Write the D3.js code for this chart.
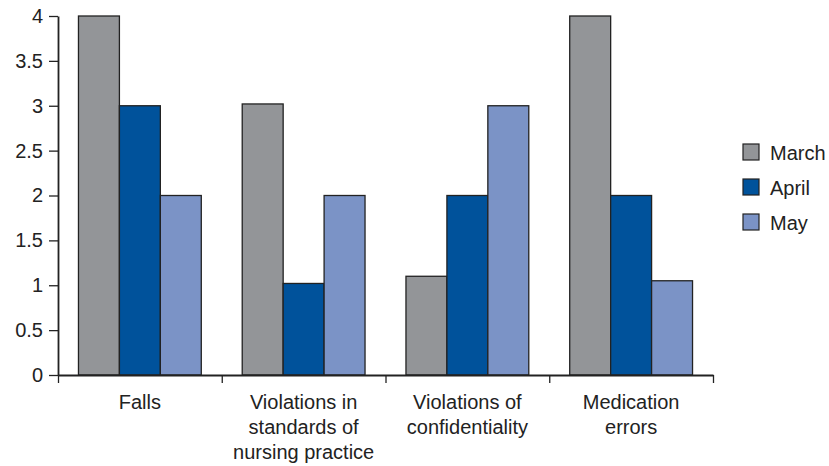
<!DOCTYPE html>
<html>
<head>
<meta charset="utf-8">
<script src="https://cdn.jsdelivr.net/npm/d3@7"></script>
<style>
body { margin: 0; background: #fff; }
text { font-family: "Liberation Sans", Arial, sans-serif; fill: #222; }
</style>
</head>
<body>
<svg width="829" height="466"></svg>
<script>
var categories = [["Falls"], ["Violations in", "standards of", "nursing practice"], ["Violations of", "confidentiality"], ["Medication", "errors"]];
var months = ["March", "April", "May"];
var march = [4, 3.02, 1.1, 4];
var april = [3, 1.02, 2, 2];
var may = [2, 2, 3, 1.05];
var yTicks = [0, 0.5, 1, 1.5, 2, 2.5, 3, 3.5, 4];
var colors = ["#939598", "#00529b", "#7b93c6"];

var series = [march, april, may];
var svg = d3.select("svg");

var mLeft = 58, mRight = 713, mTop = 16, mBottom = 375;

var xScale = d3.scaleBand()
	.domain(d3.range(categories.length))
	.range([mLeft, mRight])
	.paddingInner(0)
	.paddingOuter(0);

var xInner = d3.scaleBand()
	.domain(months)
	.range([0, xScale.bandwidth()])
	.paddingOuter(0.5)
	.paddingInner(0);

var yScale = d3.scaleLinear()
	.domain([0, 4])
	.range([mBottom, mTop]);

var color = d3.scaleOrdinal().domain(months).range(colors);

// bars
var groups = svg.selectAll("g.grp")
	.data(categories)
	.enter()
	.append("g")
	.attr("class", "grp")
	.attr("transform", (d, i) => "translate(" + xScale(i) + ",0)");

groups.selectAll("rect")
	.data((d, i) => months.map((m, j) => ({month: m, value: series[j][i]})))
	.enter()
	.append("rect")
		.attr("x", d => xInner(d.month))
		.attr("width", xInner.bandwidth())
		.attr("y", d => yScale(d.value))
		.attr("height", d => yScale(0) - yScale(d.value))
		.attr("fill", d => color(d.month))
		.attr("stroke", "#222")
		.attr("stroke-width", 1.3);

// y axis
var yAxis = d3.axisLeft(yScale)
	.tickValues(yTicks)
	.tickFormat(d3.format("~g"))
	.tickSize(9)
	.tickPadding(6)
	.tickSizeOuter(0);

var yG = svg.append("g")
	.attr("transform", "translate(" + mLeft + ",0)")
	.call(yAxis);
yG.select(".domain").attr("stroke", "#222").attr("stroke-width", 1.8);
yG.selectAll(".tick line").attr("stroke", "#222").attr("stroke-width", 1.3);
yG.selectAll(".tick text")
	.style("font-size", "20px")
	.style("font-family", "'Liberation Sans', Arial, sans-serif")
	.attr("fill", "#222");

// x axis
var xLine = d3.scaleLinear().domain([0, categories.length]).range([mLeft, mRight]);
var xAxis = d3.axisBottom(xLine)
	.tickValues(d3.range(categories.length + 1))
	.tickFormat("")
	.tickSize(8)
	.tickSizeOuter(0);

var xG = svg.append("g")
	.attr("transform", "translate(0," + mBottom + ")")
	.call(xAxis);
xG.select(".domain").attr("stroke", "#222").attr("stroke-width", 1.8);
xG.selectAll(".tick line").attr("stroke", "#222").attr("stroke-width", 1.3);

// category labels
svg.selectAll("text.cat")
	.data(categories)
	.enter()
	.append("text")
		.attr("class", "cat")
		.attr("text-anchor", "middle")
		.style("font-size", "20px")
		.attr("transform", (d, i) => "translate(" + (xScale(i) + xScale.bandwidth() / 2) + ",409)")
	.selectAll("tspan")
	.data(d => d)
	.enter()
	.append("tspan")
		.attr("x", 0)
		.attr("y", (d, i) => i * 25)
		.text(d => d);

// legend
var legend = svg.selectAll("g.leg")
	.data(months)
	.enter()
	.append("g")
	.attr("class", "leg")
	.attr("transform", (d, i) => "translate(743," + (144 + i * 35) + ")");

legend.append("rect")
	.attr("width", 16)
	.attr("height", 16)
	.attr("fill", d => color(d))
	.attr("stroke", "#222")
	.attr("stroke-width", 1.2);

legend.append("text")
	.attr("x", 27)
	.attr("y", 15.5)
	.style("font-size", "20px")
	.text(d => d);
</script>
</body>
</html>
